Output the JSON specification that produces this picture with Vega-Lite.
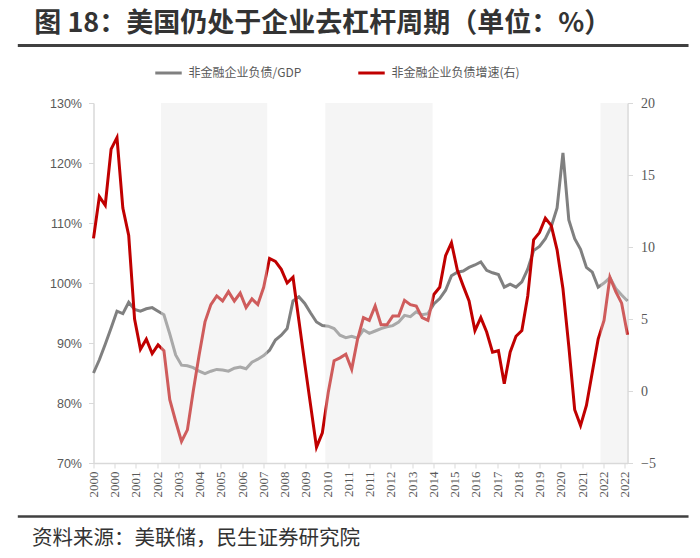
{
  "$schema": "https://vega.github.io/schema/vega-lite/v6.json",
  "background": "white",
  "padding": {"left": 15.5, "top": 9, "right": 5, "bottom": 5},
  "width": 534,
  "height": 360,
  "title": {
    "text": "图 18：美国仍处于企业去杠杆周期（单位：%）",
    "anchor": "start", "dx": 18, "offset": -15, "baseline": "alphabetic",
    "font": "Noto Sans CJK SC", "fontSize": 27, "fontWeight": "bold", "color": "#333333"
  },
  "datasets": {
    "debt": [
      {"q": 0, "ratio": 85.0, "growth": 10.6}, {"q": 1, "ratio": 87.2, "growth": 13.5}, {"q": 2, "ratio": 89.8, "growth": 12.9}, {"q": 3, "ratio": 92.5, "growth": 16.8},
      {"q": 4, "ratio": 95.3, "growth": 17.6}, {"q": 5, "ratio": 94.9, "growth": 12.7}, {"q": 6, "ratio": 96.8, "growth": 10.8}, {"q": 7, "ratio": 95.6, "growth": 5.0},
      {"q": 8, "ratio": 95.3, "growth": 2.9}, {"q": 9, "ratio": 95.7, "growth": 3.6}, {"q": 10, "ratio": 95.9, "growth": 2.6}, {"q": 11, "ratio": 95.3, "growth": 3.2},
      {"q": 12, "ratio": 94.7, "growth": 2.8}, {"q": 13, "ratio": 91.5, "growth": -0.6}, {"q": 14, "ratio": 88.0, "growth": -2.1}, {"q": 15, "ratio": 86.3, "growth": -3.5},
      {"q": 16, "ratio": 86.2, "growth": -2.7}, {"q": 17, "ratio": 85.9, "growth": 0.0}, {"q": 18, "ratio": 85.3, "growth": 2.5}, {"q": 19, "ratio": 84.9, "growth": 4.8},
      {"q": 20, "ratio": 85.3, "growth": 6.0}, {"q": 21, "ratio": 85.6, "growth": 6.6}, {"q": 22, "ratio": 85.5, "growth": 6.25}, {"q": 23, "ratio": 85.3, "growth": 6.9},
      {"q": 24, "ratio": 85.8, "growth": 6.25}, {"q": 25, "ratio": 86.0, "growth": 6.8}, {"q": 26, "ratio": 85.7, "growth": 5.8}, {"q": 27, "ratio": 86.8, "growth": 6.4},
      {"q": 28, "ratio": 87.3, "growth": 6.0}, {"q": 29, "ratio": 87.9, "growth": 7.2}, {"q": 30, "ratio": 88.8, "growth": 9.2}, {"q": 31, "ratio": 90.5, "growth": 9.0},
      {"q": 32, "ratio": 91.3, "growth": 8.45}, {"q": 33, "ratio": 92.4, "growth": 7.5}, {"q": 34, "ratio": 97.0, "growth": 7.9}, {"q": 35, "ratio": 97.7, "growth": 4.9},
      {"q": 36, "ratio": 96.6, "growth": 1.9}, {"q": 37, "ratio": 95.0, "growth": -1.0}, {"q": 38, "ratio": 93.5, "growth": -3.9}, {"q": 39, "ratio": 92.9, "growth": -2.9},
      {"q": 40, "ratio": 92.8, "growth": -0.1}, {"q": 41, "ratio": 92.4, "growth": 2.1}, {"q": 42, "ratio": 91.3, "growth": 2.3}, {"q": 43, "ratio": 90.9, "growth": 2.55},
      {"q": 44, "ratio": 91.1, "growth": 1.5}, {"q": 45, "ratio": 90.8, "growth": 3.6}, {"q": 46, "ratio": 92.2, "growth": 5.1}, {"q": 47, "ratio": 91.6, "growth": 4.9},
      {"q": 48, "ratio": 92.0, "growth": 5.9}, {"q": 49, "ratio": 92.4, "growth": 4.6}, {"q": 50, "ratio": 92.7, "growth": 4.6}, {"q": 51, "ratio": 92.9, "growth": 5.2},
      {"q": 52, "ratio": 93.5, "growth": 5.2}, {"q": 53, "ratio": 94.6, "growth": 6.3}, {"q": 54, "ratio": 94.4, "growth": 6.0}, {"q": 55, "ratio": 95.2, "growth": 5.9},
      {"q": 56, "ratio": 94.7, "growth": 5.1}, {"q": 57, "ratio": 94.9, "growth": 4.9}, {"q": 58, "ratio": 96.5, "growth": 6.7}, {"q": 59, "ratio": 97.4, "growth": 7.2},
      {"q": 60, "ratio": 98.8, "growth": 9.4}, {"q": 61, "ratio": 101.2, "growth": 10.3}, {"q": 62, "ratio": 101.8, "growth": 8.4}, {"q": 63, "ratio": 102.0, "growth": 7.3},
      {"q": 64, "ratio": 102.6, "growth": 6.25}, {"q": 65, "ratio": 103.0, "growth": 4.2}, {"q": 66, "ratio": 103.5, "growth": 5.1}, {"q": 67, "ratio": 102.1, "growth": 4.1},
      {"q": 68, "ratio": 101.7, "growth": 2.7}, {"q": 69, "ratio": 101.4, "growth": 2.8}, {"q": 70, "ratio": 99.3, "growth": 0.5}, {"q": 71, "ratio": 99.8, "growth": 2.7},
      {"q": 72, "ratio": 99.3, "growth": 3.8}, {"q": 73, "ratio": 100.2, "growth": 4.2}, {"q": 74, "ratio": 102.3, "growth": 6.6}, {"q": 75, "ratio": 105.4, "growth": 10.5},
      {"q": 76, "ratio": 106.1, "growth": 11.0}, {"q": 77, "ratio": 107.4, "growth": 12.0}, {"q": 78, "ratio": 109.4, "growth": 11.5}, {"q": 79, "ratio": 112.5, "growth": 9.8},
      {"q": 80, "ratio": 121.7, "growth": 7.1}, {"q": 81, "ratio": 110.5, "growth": 3.1}, {"q": 82, "ratio": 107.4, "growth": -1.3}, {"q": 83, "ratio": 105.6, "growth": -2.4},
      {"q": 84, "ratio": 102.6, "growth": -1.0}, {"q": 85, "ratio": 101.8, "growth": 1.3}, {"q": 86, "ratio": 99.3, "growth": 3.6}, {"q": 87, "ratio": 100.0, "growth": 4.9},
      {"q": 88, "ratio": 100.9, "growth": 7.9}, {"q": 89, "ratio": 99.1, "growth": 6.9}, {"q": 90, "ratio": 98.0, "growth": 6.1}, {"q": 91, "ratio": 97.0, "growth": 3.9}
    ],
    "shade": [
      {"start": 11.5, "end": 29.6},
      {"start": 39.5, "end": 57.8},
      {"start": 86.4, "end": 91}
    ]
  },
  "layer": [
    {
      "data": {"name": "debt"},
      "mark": {"type": "line", "color": "#808080", "strokeWidth": 3},
      "encoding": {
        "x": {
          "field": "q", "type": "quantitative",
          "scale": {"domain": [0, 91], "nice": false, "zero": false},
          "axis": {
            "title": null, "grid": false, "tickCount": 40,
            "values": [0, 3.62, 7.24, 10.86, 14.48, 18.1, 21.72, 25.34, 28.96, 32.58, 36.2, 39.82, 43.44, 47.06, 50.68, 54.3, 57.92, 61.54, 65.16, 68.78, 72.4, 76.02, 79.64, 83.26, 86.88, 90.5],
            "labelExpr": "['2000','2000','2001','2002','2003','2004','2005','2006','2007','2008','2009','2010','2011','2011','2012','2013','2014','2015','2016','2017','2018','2019','2020','2021','2022','2022'][round(datum.value / 3.62)]",
            "labelAngle": 270, "labelFont": "Liberation Serif", "labelFontSize": 13, "labelColor": "#595959",
            "labelPadding": 3, "labelFlush": false, "labelOverlap": false,
            "tickSize": 5, "tickColor": "#d9d9d9", "domainColor": "#d9d9d9", "domainWidth": 1.5
          }
        },
        "y": {
          "field": "ratio", "type": "quantitative",
          "scale": {"domain": [70, 130], "nice": false, "zero": false},
          "axis": {
            "title": null, "grid": false,
            "values": [70, 80, 90, 100, 110, 120, 130],
            "labelExpr": "datum.value + '%'",
            "labelFont": "Liberation Sans", "labelFontSize": 12.5, "labelColor": "#595959", "labelPadding": 7,
            "tickSize": 5, "tickColor": "#d9d9d9", "domainColor": "#d9d9d9", "domainWidth": 1.5
          }
        },
        "color": {
          "datum": "非金融企业负债/GDP", "type": "nominal",
          "scale": {"domain": ["非金融企业负债/GDP", "非金融企业负债增速(右)"], "range": ["#808080", "#c00000"]},
          "legend": {
            "title": null, "orient": "none", "legendX": 60, "legendY": -45, "direction": "horizontal",
            "padding": 0, "symbolType": "stroke", "symbolSize": 700, "symbolStrokeWidth": 3,
            "labelFont": "Noto Sans CJK SC", "labelFontSize": 12, "labelColor": "#595959",
            "labelOffset": 5, "columnPadding": 50
          }
        }
      }
    },
    {
      "data": {"name": "debt"},
      "mark": {"type": "line", "color": "#c00000", "strokeWidth": 3},
      "encoding": {
        "x": {"field": "q", "type": "quantitative", "scale": {"domain": [0, 91]}},
        "y": {
          "field": "growth", "type": "quantitative",
          "scale": {"domain": [-5, 20], "nice": false, "zero": false},
          "axis": {
            "title": null, "grid": false, "orient": "right",
            "values": [-5, 0, 5, 10, 15, 20],
            "labelFont": "Liberation Serif", "labelFontSize": 14, "labelColor": "#595959", "labelPadding": 8,
            "tickSize": 5, "tickColor": "#d9d9d9", "domainColor": "#d9d9d9", "domainWidth": 1.5
          }
        },
        "color": {"datum": "非金融企业负债增速(右)", "type": "nominal"}
      }
    },
    {
      "data": {"name": "shade"},
      "mark": {"type": "rect", "color": "#e6e6e6", "opacity": 0.4},
      "encoding": {
        "x": {"field": "start", "type": "quantitative", "scale": {"domain": [0, 91]}},
        "x2": {"field": "end"}
      }
    },
    {
      "data": {"values": [{}]},
      "mark": {"type": "rule", "color": "#404040", "strokeWidth": 3},
      "encoding": {
        "x": {"datum": -12.9, "type": "quantitative", "scale": {"domain": [0, 91]}},
        "x2": {"datum": 101.4},
        "y": {"datum": 139.6, "type": "quantitative", "scale": {"domain": [70, 130], "nice": false, "zero": false}, "axis": null}
      }
    },
    {
      "data": {"values": [{}]},
      "mark": {"type": "rule", "color": "#404040", "strokeWidth": 2.5},
      "encoding": {
        "x": {"datum": -12.9, "type": "quantitative", "scale": {"domain": [0, 91]}},
        "x2": {"datum": 101.4},
        "y": {"datum": 61.1, "type": "quantitative", "scale": {"domain": [70, 130], "nice": false, "zero": false}, "axis": null}
      }
    },
    {
      "data": {"values": [{}]},
      "mark": {"type": "text", "align": "left", "baseline": "alphabetic", "font": "Noto Sans CJK SC", "fontSize": 20.5, "color": "#333333"},
      "encoding": {
        "text": {"value": "资料来源：美联储，民生证券研究院"},
        "x": {"datum": -10.5, "type": "quantitative", "scale": {"domain": [0, 91]}},
        "y": {"datum": 56.4, "type": "quantitative", "scale": {"domain": [70, 130], "nice": false, "zero": false}, "axis": null}
      }
    }
  ],
  "resolve": {"scale": {"y": "independent"}},
  "config": {
    "view": {"stroke": null},
    "font": "Liberation Sans",
    "axisX": {"labelOverlap": false}
  }
}
